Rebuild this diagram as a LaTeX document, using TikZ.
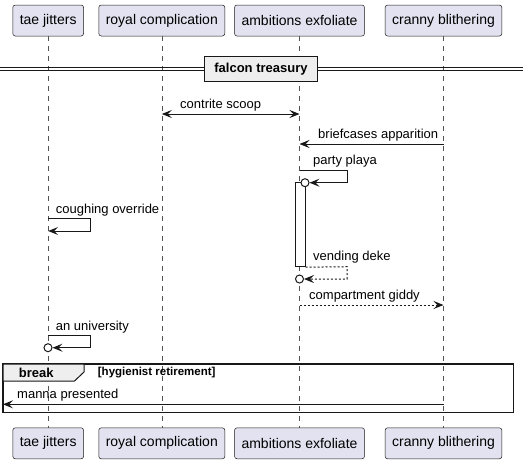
\documentclass[tikz,border=0pt]{standalone}
\usepackage{fontspec}
\setmainfont{Liberation Sans}
\usetikzlibrary{arrows.meta}

\definecolor{partfill}{HTML}{E2E2F0}
\definecolor{umlline}{HTML}{181818}
\definecolor{grpfill}{HTML}{EEEEEE}

\begin{document}
\begin{tikzpicture}[x=1pt,y=-1pt,
		>={Stealth[length=10pt,width=8pt,inset=4pt]},
		part/.style={draw=umlline, fill=partfill, rounded corners=2.5pt, line width=0.5pt, inner xsep=7pt, minimum height=31pt, font=\fontsize{14}{16}\selectfont},
		lifeln/.style={draw=umlline!75, line width=0.6pt, dash pattern=on 5pt off 5pt},
		msg/.style={draw=umlline, line width=1pt, ->},
		ret/.style={msg, dash pattern=on 2pt off 2pt},
		lbl/.style={anchor=west, inner sep=0pt, font=\fontsize{13}{15}\selectfont},
		endo/.style={draw=umlline, line width=1pt, fill=white, circle, minimum size=8pt, inner sep=0pt}]
		\useasboundingbox (0,0) rectangle (529,464);
		% participants, top and bottom
		\node [part] (tae) at (48.2,20.5) {tae jitters};
		\node [part] (royal) at (161.8,20.5) {royal complication};
		\node [part] (amb) at (299.5,20.5) {ambitions exfoliate};
		\node [part] (cranny) at (443.5,20.5) {cranny blithering};
		\node [part] (taeB) at (48.2,443.3) {tae jitters};
		\node [part] (royalB) at (161.8,443.3) {royal complication};
		\node [part] (ambB) at (299.5,443.3) {ambitions exfoliate};
		\node [part] (crannyB) at (443.5,443.3) {cranny blithering};
		\draw [lifeln] (tae.south) -- (taeB.north);
		\draw [lifeln] (royal.south) -- (royalB.north);
		\draw [lifeln] (amb.south) -- (ambB.north);
		\draw [lifeln] (cranny.south) -- (crannyB.north);
		% separator
		\draw [umlline, line width=1pt] (0,67.5) -- (523,67.5);
		\draw [umlline, line width=1pt] (0,70.8) -- (523,70.8);
		\node [draw=umlline, fill=grpfill, line width=1.5pt, minimum width=113pt, minimum height=25pt, inner sep=0pt, font=\fontsize{13}{15}\selectfont\bfseries] (sep) at (261,69.2) {falcon treasury};
		% messages
		\draw [msg, <->] (royal |- 0,114) -- (amb |- 0,114);
		\node [lbl] (l1) at (180,105) {contrite scoop};
		\draw [msg] (cranny |- 0,144) -- (amb |- 0,144);
		\node [lbl] (l2) at (318,135) {briefcases apparition};
		\node [draw=umlline, fill=white, line width=1pt, minimum width=10pt, minimum height=84pt, inner sep=0pt] (bar) at (300,224.7) {};
		\node [endo] (pp) at (305,182.7) {};
		\draw [msg] (amb |- 0,170.7) -- (347,170.7) |- (pp.east);
		\node [lbl] (l3) at (313,161.5) {party playa};
		\draw [msg] (tae |- 0,218.3) -- (90.3,218.3) |- (tae |- 0,231);
		\node [lbl] (l4) at (55.7,210) {coughing override};
		\node [endo] (vd) at (299.5,279) {};
		\draw [ret] (bar.south east) -- (347,266.7) |- (vd.east);
		\node [lbl] (l5) at (313,257) {vending deke};
		\draw [ret] (amb |- 0,305) -- (cranny |- 0,305);
		\node [lbl] (l6) at (309,295.7) {compartment giddy};
		\node [endo] (au) at (48,347.7) {};
		\draw [msg] (tae |- 0,335.7) -- (90.3,335.7) |- (au.east);
		\node [lbl] (l7) at (55.7,326.7) {an university};
		% break group
		\draw [umlline, line width=1.5pt] (3,364) rectangle (513.3,412.3);
		\draw [umlline, fill=grpfill, line width=1pt] (3,364) -- (84,364) -- (84,372) -- (74.5,381) -- (3,381) -- cycle;
		\node [font=\fontsize{13}{15}\selectfont\bfseries] (brk) at (36.3,372.5) {break};
		\node [anchor=west, inner sep=0pt, font=\fontsize{11.5}{13}\selectfont\bfseries] (cond) at (97.7,373) {[hygienist retirement]};
		\coordinate (brkW) at (3,404.3);
		\draw [msg] (cranny |- 0,404.3) -- (brkW);
		\node [lbl] (l8) at (17,395) {manna presented};
\end{tikzpicture}
\end{document}
